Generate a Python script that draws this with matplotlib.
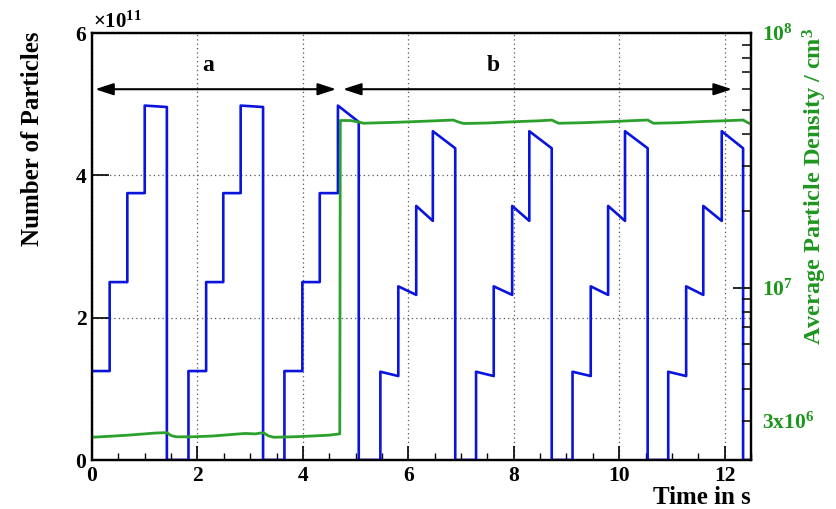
import matplotlib
matplotlib.use("Agg")
import matplotlib.pyplot as plt
from matplotlib.ticker import FixedLocator

plt.rcParams['font.family'] = ['Liberation Serif', 'DejaVu Serif']
plt.rcParams['font.weight'] = 'bold'
plt.rcParams['mathtext.fontset'] = 'custom'
plt.rcParams['mathtext.rm'] = 'Liberation Serif:bold'
plt.rcParams['mathtext.it'] = 'Liberation Serif:bold'
plt.rcParams['mathtext.bf'] = 'Liberation Serif:bold'

# ---- data ----
# Number of particles (units of 1e11) vs time in s
blue_t = [0, 0.335, 0.335, 0.67, 0.67, 1.0, 1.0, 1.42, 1.42,
          1.83, 1.83, 2.165, 2.165, 2.49, 2.49, 2.82, 2.82, 3.245, 3.245,
          3.65, 3.65, 3.99, 3.99, 4.32, 4.32, 4.665, 4.665, 5.06, 5.06,
          5.47, 5.47, 5.81, 5.81, 6.15, 6.15, 6.465, 6.465, 6.89, 6.89,
          7.285, 7.285, 7.62, 7.62, 7.97, 7.97, 8.295, 8.295, 8.72, 8.72,
          9.115, 9.115, 9.46, 9.46, 9.79, 9.79, 10.11, 10.11, 10.54, 10.54,
          10.93, 10.93, 11.27, 11.27, 11.595, 11.595, 11.945, 11.945, 12.35, 12.35, 12.5]
blue_n = [1.25, 1.25, 2.5, 2.5, 3.75, 3.75, 4.98, 4.96, 0,
          0, 1.25, 1.25, 2.5, 2.5, 3.75, 3.75, 4.98, 4.96, 0,
          0, 1.25, 1.25, 2.5, 2.5, 3.75, 3.75, 4.98, 4.75, 0,
          0, 1.24, 1.18, 2.44, 2.32, 3.57, 3.36, 4.62, 4.38, 0,
          0, 1.24, 1.18, 2.44, 2.32, 3.57, 3.36, 4.62, 4.38, 0,
          0, 1.24, 1.18, 2.44, 2.32, 3.57, 3.36, 4.62, 4.38, 0,
          0, 1.24, 1.18, 2.44, 2.32, 3.57, 3.36, 4.62, 4.38, 0, 0]

# Average particle density (1/cm^3) vs time in s
green_t = [0, 0.3, 0.7, 1.0, 1.2, 1.42, 1.5, 1.6, 1.9, 2.3, 2.7, 2.9, 3.1, 3.25,
           3.35, 3.45, 3.8, 4.2, 4.5, 4.7, 4.71, 4.9, 5.06, 5.15, 5.8, 6.3, 6.85,
           6.95, 7.05, 7.5, 8.0, 8.5, 8.72, 8.85, 9.3, 9.8, 10.2, 10.54, 10.65,
           11.1, 11.6, 12.0, 12.35, 12.45, 12.5]
green_d = [2.58e6, 2.60e6, 2.63e6, 2.66e6, 2.68e6, 2.69e6, 2.62e6, 2.59e6, 2.59e6,
           2.61e6, 2.65e6, 2.67e6, 2.66e6, 2.69e6, 2.61e6, 2.58e6, 2.59e6, 2.61e6,
           2.63e6, 2.66e6, 4.53e7, 4.53e7, 4.47e7, 4.42e7, 4.46e7, 4.50e7, 4.55e7,
           4.47e7, 4.41e7, 4.43e7, 4.48e7, 4.52e7, 4.55e7, 4.42e7, 4.44e7, 4.48e7,
           4.52e7, 4.55e7, 4.42e7, 4.44e7, 4.49e7, 4.52e7, 4.55e7, 4.43e7, 4.40e7]

x_ticks = [0, 2, 4, 6, 8, 10, 12]
y_ticks = [0, 2, 4, 6]

BLUE = '#0a14dc'
GREEN = '#2ca02c'
GREEN_TXT = '#1e961e'
TICK_FS = 15.5

fig = plt.figure(figsize=(8.36, 5.09), dpi=100)
ax = fig.add_axes([92/836, 49/509, 659/836, 427/509])
ax2 = ax.twinx()

ax.plot(blue_t, blue_n, color=BLUE, lw=1.9, zorder=3)
ax.set_xlim(0, 12.5)
ax.set_ylim(0, 6)
ax.set_xticks(x_ticks)
ax.set_xticklabels([str(v) for v in x_ticks], fontsize=TICK_FS, fontweight='bold')
ax.set_yticks(y_ticks)
ax.set_yticklabels([str(v) for v in y_ticks], fontsize=TICK_FS, fontweight='bold')
ax.xaxis.set_minor_locator(FixedLocator([i*0.5 for i in range(26)]))
ax.tick_params(axis='x', which='major', direction='in', length=10, width=1.2, pad=4, top=False)
ax.tick_params(axis='x', which='minor', direction='in', length=5, width=1.0, top=False)
ax.tick_params(axis='y', which='major', direction='in', length=12, width=1.2, pad=4, right=False)
ax.grid(True, which='major', linestyle=(0, (1, 2.5)), color='#555555', lw=0.9)

for sp in ax.spines.values():
    sp.set_linewidth(1.6)

# arrows
arrow_y = 5.21
ax.annotate('', xy=(4.63, arrow_y), xytext=(0.06, arrow_y),
            arrowprops=dict(arrowstyle='<|-|>,head_length=0.55,head_width=0.18',
                            color='black', lw=1.5, mutation_scale=20,
                            shrinkA=0, shrinkB=0), zorder=5)
ax.annotate('', xy=(12.14, arrow_y), xytext=(4.76, arrow_y),
            arrowprops=dict(arrowstyle='<|-|>,head_length=0.55,head_width=0.18',
                            color='black', lw=1.5, mutation_scale=20,
                            shrinkA=0, shrinkB=0), zorder=5)
ax.text(2.21, 5.55, 'a', fontsize=17, fontweight='bold', ha='center', va='center')
ax.text(7.61, 5.55, 'b', fontsize=17, fontweight='bold', ha='center', va='center')

# right axis
ax2.plot(green_t, green_d, color=GREEN, lw=2.0, zorder=2)
ax2.set_yscale('log')
ax2.set_ylim(2.1e6, 1e8)
ax2.set_xlim(0, 12.5)
ax2.set_yticks([1e7, 1e8], labels=['10$^{7}$', '10$^{8}$'])
minors = [3e6, 4e6, 5e6, 6e6, 7e6, 8e6, 9e6, 2e7, 3e7, 4e7, 5e7, 6e7, 7e7, 8e7, 9e7]
ax2.set_yticks(minors, labels=['3x10$^{6}$'] + [''] * (len(minors) - 1), minor=True)
ax2.tick_params(axis='y', which='major', direction='in', length=13, width=1.2, pad=8,
                labelsize=TICK_FS, labelcolor=GREEN_TXT)
ax2.tick_params(axis='y', which='minor', direction='in', length=6.5, width=1.1, pad=8,
                labelsize=TICK_FS, labelcolor=GREEN_TXT)
for lab in ax2.get_yticklabels(which='both'):
    lab.set_fontweight('bold')
for sp in ax2.spines.values():
    sp.set_linewidth(1.6)

# labels
fig.text(93/836, 1 - 22/509, '×10$^{11}$', fontsize=15, fontweight='bold',
         ha='left', va='center')
fig.text(33/836, 1 - 32/509, 'Number of Particles', fontsize=18, fontweight='bold',
         rotation=90, ha='center', va='top')
fig.text(751/836, 1 - 497/509, 'Time in s', fontsize=18, fontweight='bold',
         ha='right', va='center')
fig.text(815/836, 1 - 28/509, 'Average Particle Density / cm$^{3}$', fontsize=17.5,
         fontweight='bold', rotation=90, ha='center', va='top', color=GREEN_TXT)

fig.savefig('out.png', dpi=100)
